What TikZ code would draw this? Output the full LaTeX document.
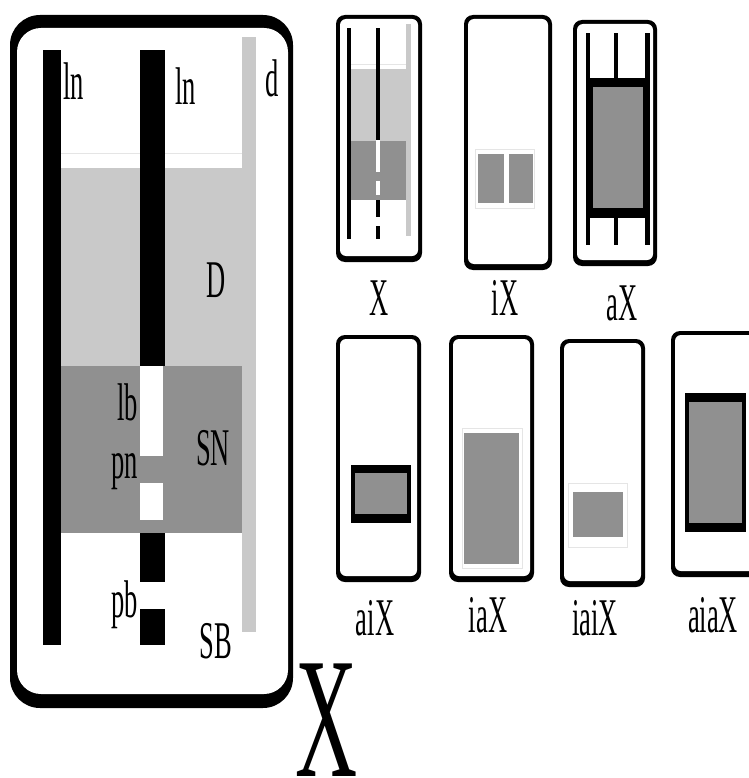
\documentclass[tikz,border=0pt]{standalone}
\usepackage{fontspec}
\usepackage{tikz}
\usetikzlibrary{positioning,calc}
\newfontfamily\condfont[FakeStretch=0.5]{Liberation Serif}
\definecolor{lightg}{gray}{0.79}
\definecolor{darkg}{gray}{0.565}
\definecolor{faint}{gray}{0.9}
\tikzset{
  lab/.style={font=\condfont\fontsize{53}{60}\selectfont, inner sep=0pt},
  hairline/.style={draw=faint, line width=1pt},
}

\begin{document}
\begin{tikzpicture}[x=1pt,y=-1pt]
    \useasboundingbox (0,0) rectangle (748,778);
    % Big frame
    \fill[rounded corners=30] (10,15) rectangle (293,708);
    \fill[white, rounded corners=24] (17,28) rectangle (288,694);
    % Regions
    \fill[lightg] (61,168) rectangle (242,366);
    \draw[hairline] (61,154) -- (242,154);
    \fill[darkg] (61,366) rectangle (242,533);
    \fill[lightg] (242,37) rectangle (256,632);
    % Lines
    \fill (43,50) rectangle (61,645);
    \fill (140,50) rectangle (165,366);
    \fill[white] (140,366) rectangle (163,456);
    \fill[white] (140,483) rectangle (163,520);
    \fill (140,533) rectangle (165,582);
    \fill (140,609) rectangle (165,645);
    \node[lab, anchor=base west] (ln1) at (63,100) {ln};
    \node[lab, anchor=base west] (ln2) at (175,105) {ln};
    \node[lab, anchor=base west] (d) at (265,97) {d};
    \node[lab, anchor=base] (D) at (216,297) {D};
    \node[lab, anchor=base east] (lb) at (138,420) {lb};
    \node[lab, anchor=base east] (pn) at (138,478) {pn};
    \node[lab, anchor=base] (SN) at (213,465) {SN};
    \node[lab, anchor=base east] (pb) at (138,617) {pb};
    \node[lab, anchor=base] (SB) at (216,658) {SB};
    \node[font=\condfont\fontsize{172}{180}\selectfont, inner sep=0pt, anchor=base] (bigX) at (327,776) {X};

    % Small frames
    \foreach \xa/\ya/\xb/\yb in {336/15/422/262, 464/15/552/270, 573/20/657/266,
        336/335/421/582, 449/335/534/582, 560/339/645/587, 671/331/770/577} {
      \fill[rounded corners=9] (\xa,\ya) rectangle (\xb,\yb);
      \fill[white, rounded corners=6] (\xa+4,\ya+4) rectangle (\xb-4,\yb-6);
    }
    % X
    \fill[lightg] (351,69) rectangle (406,141);
    \draw[hairline] (351,65) -- (406,65);
    \fill[darkg] (351,141) rectangle (406,200);
    \fill[lightg] (406,24) rectangle (411,236);
    \fill (347,28) rectangle (351,239);
    \fill (376,28) rectangle (380,140);
    \fill[white] (376,140) rectangle (380,172);
    \fill[white] (376,181) rectangle (380,195);
    \fill (376,200) rectangle (380,217);
    \fill (376,226) rectangle (380,239);
    \node[lab, anchor=base] (lX) at (379,315) {X};
    % iX
    \draw[hairline] (475,150) rectangle (534,208);
    \fill[darkg] (478,154) rectangle (504,203);
    \fill[darkg] (509,154) rectangle (533,203);
    \node[lab, anchor=base] (liX) at (505,315) {iX};
    % aX
    \fill (586,33) rectangle (590,245);
    \fill (614,33) rectangle (618,245);
    \fill (645,33) rectangle (650,245);
    \fill (590,78) rectangle (646,218);
    \fill[darkg] (593,87) rectangle (643,208);
    \node[lab, anchor=base] (laX) at (622,320) {aX};
    % aiX
    \fill (351,465) rectangle (411,523);
    \fill[darkg] (355,473) rectangle (407,514);
    \node[lab, anchor=base] (laiX) at (375,635) {aiX};
    % iaX
    \draw[hairline] (462,428) rectangle (522,568);
    \fill[darkg] (464,433) rectangle (519,564);
    \node[lab, anchor=base] (liaX) at (488,632) {iaX};
    % iaiX
    \draw[hairline] (568,483) rectangle (627,547);
    \fill[darkg] (573,492) rectangle (623,537);
    \node[lab, anchor=base] (liaiX) at (595,635) {iaiX};
    % aiaX
    \fill (685,393) rectangle (746,532);
    \fill[darkg] (689,402) rectangle (742,523);
    \node[lab, anchor=base] (laiaX) at (713,632) {aiaX};
\end{tikzpicture}
\end{document}
